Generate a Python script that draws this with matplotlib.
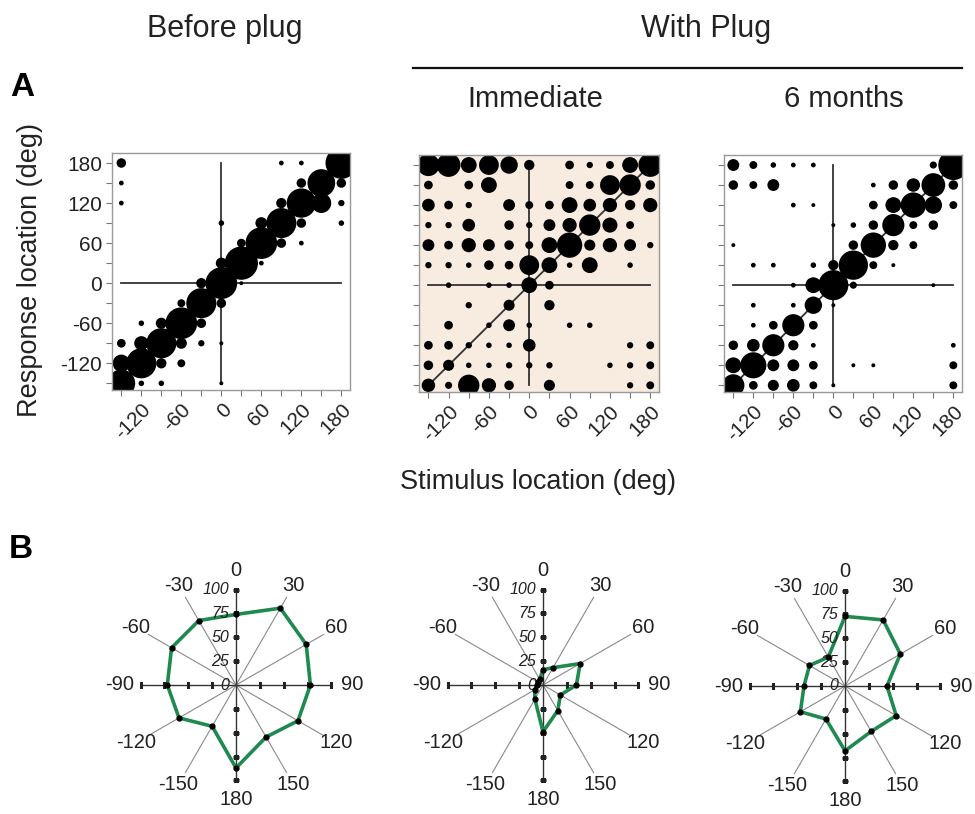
import numpy as np
import matplotlib
matplotlib.use('Agg')
import matplotlib.pyplot as plt

plt.rcParams['font.family'] = ['Liberation Sans', 'DejaVu Sans']

# ---------------- data ----------------
stimulus = [-150, -120, -90, -60, -30, 0, 30, 60, 90, 120, 150, 180]
response = [180, 150, 120, 90, 60, 30, 0, -30, -60, -90, -120, -150]   # rows, top to bottom
x_ticklabels = [-120, -60, 0, 60, 120, 180]
y_ticklabels = [180, 120, 60, 0, -60, -120]

# bubble size (relative radius) for each response row x stimulus column
before_plug = [
    [12, 0, 0, 0, 0, 0, 0, 0, 6, 6, 0, 40],
    [6, 0, 0, 0, 0, 0, 0, 0, 0, 12, 35, 12],
    [6, 0, 0, 0, 0, 0, 0, 0, 13, 37, 25, 8],
    [0, 0, 0, 0, 0, 7, 0, 15, 38, 12, 0, 7],
    [0, 0, 0, 0, 0, 0, 11, 40, 12, 6, 0, 0],
    [0, 0, 0, 0, 0, 14, 42, 6, 0, 0, 0, 0],
    [0, 0, 0, 0, 13, 40, 5, 0, 0, 0, 0, 0],
    [0, 0, 0, 10, 38, 12, 0, 0, 0, 0, 0, 0],
    [0, 7, 14, 40, 12, 0, 0, 0, 0, 0, 0, 0],
    [11, 18, 38, 14, 8, 5, 0, 0, 0, 0, 0, 0],
    [22, 38, 13, 10, 0, 0, 0, 0, 0, 0, 0, 0],
    [35, 7, 7, 0, 0, 5, 0, 0, 0, 0, 0, 0],
]
plug_immediate = [
    [28, 30, 20, 25, 22, 13, 0, 11, 8, 10, 20, 30],
    [11, 0, 11, 20, 0, 0, 0, 10, 10, 25, 27, 12],
    [16, 11, 8, 0, 15, 10, 11, 20, 16, 18, 13, 18],
    [8, 8, 16, 0, 12, 8, 15, 18, 27, 19, 10, 0],
    [15, 11, 18, 15, 12, 10, 20, 32, 14, 18, 15, 8],
    [8, 8, 7, 12, 11, 25, 20, 7, 20, 0, 7, 0],
    [0, 7, 0, 7, 7, 20, 11, 0, 0, 0, 0, 0],
    [0, 0, 8, 0, 14, 0, 13, 0, 0, 0, 0, 0],
    [0, 11, 0, 7, 15, 7, 0, 7, 7, 0, 0, 0],
    [11, 11, 8, 7, 7, 16, 0, 0, 0, 0, 8, 10],
    [12, 14, 7, 7, 8, 8, 8, 0, 0, 7, 8, 10],
    [17, 9, 27, 18, 12, 0, 14, 0, 0, 0, 8, 10],
]
plug_6months = [
    [15, 10, 7, 6, 6, 0, 0, 0, 0, 0, 9, 38],
    [12, 10, 15, 0, 0, 0, 0, 6, 12, 17, 30, 12],
    [0, 0, 0, 6, 5, 0, 0, 11, 20, 32, 22, 10],
    [0, 0, 0, 0, 0, 5, 7, 12, 28, 10, 12, 0],
    [5, 0, 0, 0, 0, 0, 12, 32, 13, 10, 0, 0],
    [0, 6, 6, 0, 7, 13, 37, 10, 5, 0, 0, 0],
    [0, 0, 0, 6, 20, 38, 9, 0, 0, 0, 5, 0],
    [0, 6, 0, 6, 22, 5, 0, 0, 0, 0, 0, 0],
    [0, 6, 11, 28, 11, 0, 0, 0, 0, 0, 0, 0],
    [12, 16, 28, 13, 6, 0, 0, 0, 0, 0, 0, 6],
    [20, 33, 15, 15, 11, 0, 5, 5, 0, 0, 0, 10],
    [28, 11, 14, 16, 10, 5, 0, 0, 0, 0, 0, 10],
]

# polar plots: percent correct per target azimuth
polar_angles = [0, 30, 60, 90, 120, 150, 180, -150, -120, -90, -60, -30]
polar_before = [74, 93, 85, 78, 75, 63, 87, 50, 69, 72, 78, 78]
polar_immediate = [16, 21, 45, 35, 21, 31, 49, 17, 10, 6, 6, 7]
polar_6months = [73, 80, 67, 44, 62, 55, 68, 40, 54, 43, 43, 35]
radial_labels = [0, 25, 50, 75, 100]

# ---------------- figure ----------------
W, H = 975, 814
fig = plt.figure(figsize=(W / 100, H / 100), dpi=100)
TXT = '#222222'


def px_axes(left, top, right, bottom, **kw):
    return fig.add_axes([left / W, 1 - bottom / H, (right - left) / W, (bottom - top) / H], **kw)


def bubble_panel(box, mat, bg, show_y):
    ax = px_axes(*box)
    ax.set_facecolor(bg)
    X, Y = np.meshgrid(stimulus, response)
    R = np.array(mat, dtype=float)
    m = R > 0
    lc = '#333333'
    ax.plot([-150, 180], [-150, 180], color=lc, lw=1.3, zorder=1)
    ax.plot([-150, 180], [0, 0], color=lc, lw=1.3, zorder=1)
    ax.plot([0, 0], [-150, 180], color=lc, lw=1.3, zorder=1)
    ax.scatter(X[m], Y[m], s=(0.57 * R[m]) ** 2, c='black', linewidths=0, zorder=2)
    ax.set_xlim(-164, 193)
    ax.set_ylim(-160, 195)
    ax.set_xticks(x_ticklabels)
    ax.set_xticks([v for v in stimulus if v not in x_ticklabels], minor=True)
    ax.set_yticks(y_ticklabels)
    ax.set_yticks([v for v in response if v not in y_ticklabels], minor=True)
    ax.set_xticklabels([str(v) for v in x_ticklabels], rotation=45, ha='right', va='top',
                       rotation_mode='anchor')
    if show_y:
        ax.set_yticklabels([str(v) for v in y_ticklabels])
    else:
        ax.set_yticklabels([])
    ax.tick_params(which='both', direction='out', length=4, width=0.8, color='#777777',
                   labelsize=15, labelcolor=TXT, pad=3)
    for s in ax.spines.values():
        s.set_color('#999999')
        s.set_linewidth(1.0)
    return ax


bubble_panel((112, 153, 350, 390), before_plug, 'white', True)
bubble_panel((419, 155, 659, 392), plug_immediate, '#f8ebdf', False)
bubble_panel((724, 155, 962, 392), plug_6months, 'white', False)

GREEN = '#1f8a50'


def polar_panel(center, vals):
    cx, cy = center
    half = 124.0
    ax = fig.add_axes([(cx - half) / W, (H - cy - half) / H, 2 * half / W, 2 * half / H],
                      projection='polar')
    ax.set_theta_zero_location('N')
    ax.set_theta_direction(-1)
    ax.set_ylim(0, 130)
    ax.axis('off')
    rad = np.deg2rad
    for a in [30, 60, 120, 150, -30, -60, -120, -150]:
        ax.plot([rad(a), rad(a)], [0, 106], color='#8a8a8a', lw=0.8, zorder=1)
    for a in [0, 90, 180, -90]:
        ax.plot([rad(a), rad(a)], [0, 100], color='#333333', lw=1.0, zorder=2)
        mk = '_' if a in (0, 180) else '|'
        ax.plot([rad(a)] * 4, [25, 50, 75, 100], linestyle='none', marker=mk,
                ms=5, mew=2.2, color='#222222', zorder=2)
    th = rad(np.array(polar_angles + polar_angles[:1], dtype=float))
    rr = np.array(vals + vals[:1], dtype=float)
    ax.plot(th, rr, color=GREEN, lw=2.6, zorder=3, solid_joinstyle='miter')
    ax.plot(th[:-1], rr[:-1], linestyle='none', marker='o', ms=3.5, color='black', zorder=4)
    for a in polar_angles:
        r_lab = 120 + 1.5 * abs(np.sin(rad(a)))
        ax.text(rad(a), r_lab, str(a), ha='center', va='center', fontsize=14.5, color=TXT)
    for v in radial_labels:
        ax.annotate(str(v), xy=(0, v), xytext=(-5, 0), textcoords='offset points',
                    ha='right', va='center', fontsize=11.5, fontstyle='italic', color=TXT)
    return ax


polar_panel((236, 685), polar_before)
polar_panel((543, 685), polar_immediate)
polar_panel((845, 686), polar_6months)

# ---------------- text ----------------
def ftext(x, y, s, **kw):
    fig.text(x / W, 1 - y / H, s, **kw)


ftext(225, 37, 'Before plug', ha='center', va='baseline', fontsize=22, color=TXT)
ftext(706, 37, 'With Plug', ha='center', va='baseline', fontsize=22, color=TXT)
ftext(535, 107, 'Immediate', ha='center', va='baseline', fontsize=21, color=TXT)
ftext(844, 107, '6 months', ha='center', va='baseline', fontsize=21, color=TXT)
fig.add_artist(plt.Line2D([413 / W, 962 / W], [1 - 68 / H, 1 - 68 / H], color='#111111', lw=1.6))
ftext(22, 87, 'A', ha='center', va='center', fontsize=24, fontweight='bold', color='black')
ftext(21, 550, 'B', ha='center', va='center', fontsize=24, fontweight='bold', color='black')
ftext(30, 270, 'Response location (deg)', ha='center', va='center', rotation=90,
      fontsize=19.5, color=TXT)
ftext(538, 482, 'Stimulus location (deg)', ha='center', va='center', fontsize=19.5, color=TXT)

fig.savefig('out.png', dpi=100)
